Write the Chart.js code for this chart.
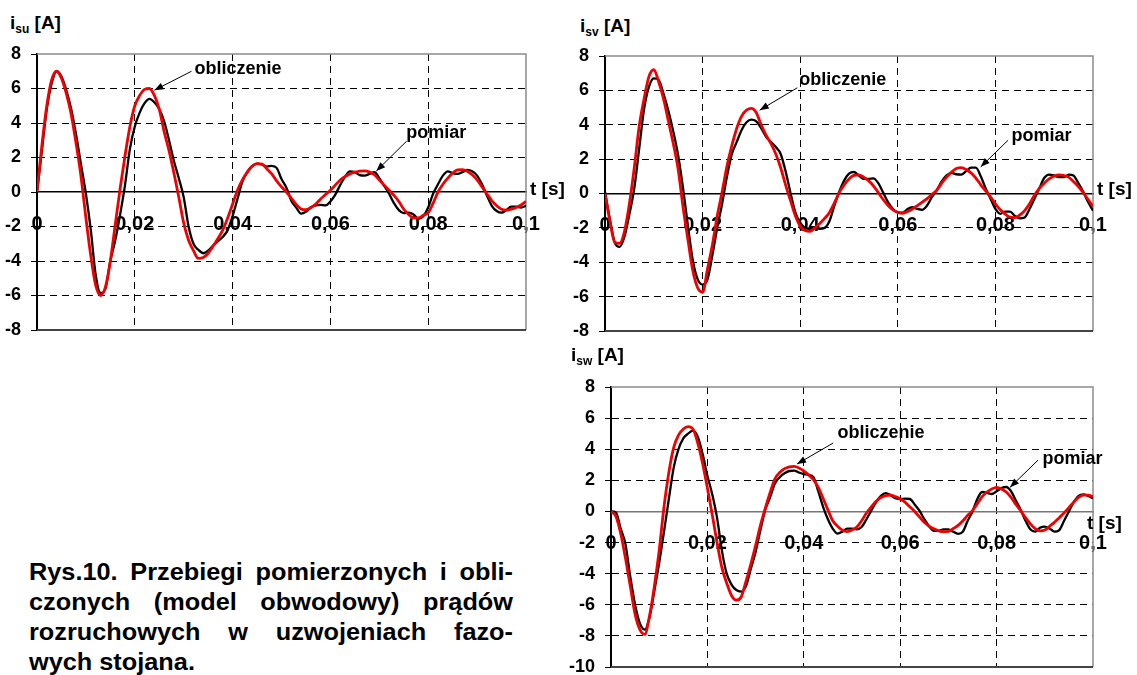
<!DOCTYPE html>
<html><head><meta charset="utf-8">
<script src="https://cdn.jsdelivr.net/npm/chart.js@4/dist/chart.umd.min.js"></script>
<style>
html,body{margin:0;padding:0;background:#fff;width:1137px;height:675px;overflow:hidden;}
body{position:relative;font-family:"Liberation Sans",Arial,sans-serif;font-weight:bold;color:#000;}
canvas{position:absolute;}
.ttl{position:absolute;font-size:19px;line-height:22px;white-space:nowrap;}
.ttl sub{font-size:12px;vertical-align:-4px;line-height:0;}
.tax{position:absolute;font-size:19px;line-height:22px;white-space:nowrap;}
#cap{position:absolute;left:29px;top:557px;width:440px;font-size:23px;line-height:30px;transform:scaleX(1.1);transform-origin:0 0;}
#cap div{text-align:justify;text-align-last:justify;}
#cap div.last{text-align:left;text-align-last:left;}
</style>
</head><body>
<canvas id="c1" width="570" height="310" style="left:0px;top:40px"></canvas>
<canvas id="c2" width="577" height="310" style="left:560px;top:40px"></canvas>
<canvas id="c3" width="577" height="305" style="left:560px;top:370px"></canvas>

<div class="ttl" style="left:10px;top:12px">i<sub>su</sub> [A]</div>
<div class="ttl" style="left:580px;top:15px">i<sub>sv</sub> [A]</div>
<div class="ttl" style="left:571px;top:344px">i<sub>sw</sub> [A]</div>
<div class="tax" style="left:530px;top:178px">t [s]</div>
<div class="tax" style="left:1097px;top:178px">t [s]</div>
<div class="tax" style="left:1087px;top:512px">t [s]</div>

<div id="cap">
<div>Rys.10. Przebiegi pomierzonych i obli-</div>
<div>czonych (model obwodowy) prądów</div>
<div>rozruchowych w uzwojeniach fazo-</div>
<div class="last">wych stojana.</div>
</div>

<script>
// time step between samples (s)
const T_STEP = 0.001;
const xTickValues = [0, 0.02, 0.04, 0.06, 0.08, 0.1];
const xTickLabels = ['0', '0,02', '0,04', '0,06', '0,08', '0,1'];

// phase U
const isuObliczenie = [0,2.7,5.0,6.5,7.0,6.6,5.7,4.5,2.8,0.9,-1.5,-3.7,-5.4,-6.0,-5.5,-4.0,-1.9,0.2,2.1,3.8,
 5.0,5.6,5.95,6.0,5.6,4.8,3.5,2.4,1.1,-0.3,-1.8,-2.8,-3.4,-3.85,-3.8,-3.55,-3.15,-2.7,-2.2,-1.5,
 -0.7,0.1,0.7,1.15,1.5,1.65,1.62,1.35,1.05,0.65,0.3,0.0,-0.35,-0.72,-0.98,-1.03,-0.9,-0.7,-0.4,-0.15,
 0.1,0.4,0.7,0.9,1.05,1.15,1.21,1.22,1.15,1.0,0.7,0.4,0.1,-0.2,-0.55,-1.0,-1.3,-1.5,-1.5,-1.35,
 -1.2,-0.65,0.0,0.45,0.8,1.1,1.28,1.3,1.2,1.0,0.7,0.3,-0.1,-0.5,-0.8,-1.0,-1.05,-1.0,-0.9,-0.75,-0.55];
const isuPomiar = [0,2.4,4.8,6.3,7.0,6.7,5.9,4.8,3.3,1.6,-0.1,-2.2,-4.8,-5.85,-5.6,-4.0,-2.8,-1.3,0.4,2.5,
 3.8,4.6,5.15,5.4,5.2,4.8,4.1,3.0,1.8,0.8,-0.3,-2.0,-3.0,-3.35,-3.55,-3.4,-3.1,-2.85,-2.6,-2.2,
 -1.4,-0.4,0.6,1.15,1.5,1.65,1.6,1.47,1.52,1.4,0.75,0.25,-0.5,-0.9,-1.25,-1.15,-0.9,-0.78,-0.75,-0.78,
 -0.55,-0.15,0.4,0.9,1.2,1.15,0.98,0.95,1.05,1.15,0.8,0.35,-0.1,-0.65,-1.05,-1.22,-1.2,-1.3,-1.55,-1.4,
 -0.9,-0.1,0.45,0.95,1.2,1.1,1.05,1.15,1.28,1.2,0.95,0.45,-0.2,-0.8,-1.1,-1.2,-1.05,-0.85,-0.85,-0.9,-0.8];

// phase V
const isvObliczenie = [0,-1.6,-2.85,-2.9,-2.2,-0.6,1.5,3.9,5.5,6.8,7.2,6.5,5.5,4.2,2.9,1.4,-0.8,-2.7,-4.5,-5.5,
 -5.75,-4.4,-3.0,-1.3,0.1,1.6,2.8,3.8,4.5,4.85,4.95,4.7,4.0,3.4,2.9,2.3,1.5,0.5,-0.4,-1.3,
 -1.9,-2.15,-2.2,-2.0,-1.75,-1.45,-1.1,-0.55,0.05,0.5,0.85,1.05,1.08,0.95,0.75,0.45,0.05,-0.35,-0.7,-0.95,
 -1.1,-1.15,-1.05,-0.9,-0.7,-0.5,-0.3,-0.05,0.2,0.6,0.95,1.25,1.45,1.5,1.4,1.2,0.9,0.5,0.15,-0.2,
 -0.6,-0.95,-1.2,-1.38,-1.4,-1.25,-1.0,-0.6,-0.1,0.3,0.6,0.85,1.0,1.08,1.05,0.95,0.7,0.4,0.05,-0.35,-0.75];
const isvPomiar = [0.1,-1.5,-2.85,-3.1,-2.5,-1.2,0.3,2.6,4.9,6.2,6.7,6.6,5.8,4.8,3.6,2.2,0.3,-1.9,-3.9,-5.0,
 -5.3,-5.0,-3.6,-2.0,-0.6,1.0,2.3,3.0,3.7,4.15,4.3,4.2,3.8,3.3,3.0,2.7,2.3,1.3,0.05,-1.1,
 -1.7,-2.0,-2.05,-2.0,-2.05,-2.0,-1.6,-0.7,0.1,0.75,1.15,1.25,1.05,0.85,0.85,0.88,0.6,0.05,-0.5,-0.9,
 -1.1,-1.12,-0.9,-0.8,-0.9,-0.95,-0.7,-0.2,0.2,0.7,1.05,1.2,1.12,1.1,1.3,1.5,1.5,1.0,0.3,-0.3,
 -0.9,-1.18,-1.05,-1.05,-1.3,-1.45,-1.4,-0.9,-0.3,0.3,0.9,1.1,1.05,0.95,0.95,1.1,1.05,0.6,0.1,-0.5,-1.0];

// phase W
const iswObliczenie = [0,-0.3,-1.4,-3.0,-4.8,-6.6,-7.6,-7.9,-6.7,-4.8,-2.5,0.3,2.5,4.1,4.9,5.3,5.45,5.3,4.4,3.1,
 1.5,-0.2,-2.0,-3.6,-4.6,-5.4,-5.7,-5.5,-4.5,-3.4,-2.2,-0.9,0.2,1.2,2.1,2.5,2.75,2.87,2.9,2.8,
 2.6,2.35,2.05,1.55,0.85,0.1,-0.6,-0.95,-1.2,-1.3,-1.2,-1.0,-0.6,-0.1,0.3,0.65,0.9,1.02,1.05,0.95,
 0.8,0.6,0.3,0.0,-0.35,-0.7,-0.95,-1.12,-1.25,-1.3,-1.28,-1.1,-0.9,-0.6,-0.25,0.05,0.5,0.95,1.25,1.45,
 1.55,1.45,1.25,0.9,0.45,0.05,-0.4,-0.8,-1.1,-1.25,-1.2,-0.95,-0.7,-0.4,-0.1,0.25,0.6,0.9,1.05,1.05,0.95];
const iswPomiar = [0,-0.05,-1.1,-2.1,-4.2,-6.0,-7.2,-7.6,-6.8,-5.1,-3.3,-1.3,0.8,2.8,4.0,4.7,5.0,5.2,4.8,3.7,
 2.3,1.1,-0.4,-2.5,-4.0,-4.7,-5.05,-5.15,-4.8,-3.7,-2.6,-1.2,0.1,0.9,1.8,2.2,2.45,2.6,2.62,2.5,
 2.4,2.35,2.2,1.3,0.3,-0.5,-1.1,-1.42,-1.3,-1.1,-1.1,-1.15,-1.0,-0.5,0.05,0.6,1.0,1.18,1.05,0.85,
 0.8,0.82,0.8,0.45,0.05,-0.5,-0.95,-1.25,-1.25,-1.15,-1.15,-1.3,-1.44,-1.3,-0.6,0.0,0.8,1.25,1.2,1.12,
 1.3,1.5,1.57,1.3,0.7,0.1,-0.6,-1.15,-1.3,-1.05,-0.97,-1.1,-1.3,-1.2,-0.6,0.0,0.6,1.0,1.1,1.0,0.85];

const FONT = '"Liberation Sans", Arial, Helvetica, sans-serif';
Chart.defaults.font.family = FONT;
Chart.defaults.font.weight = 'bold';
Chart.defaults.color = '#000';

function pts(arr) { return arr.map((v, i) => ({ x: +(i * T_STEP).toFixed(4), y: v })); }

const framePlugin = {
  id: 'frame',
  beforeDatasetsDraw(chart) {
    const { ctx, chartArea: a } = chart;
    ctx.save();
    ctx.lineWidth = 1.5;
    ctx.strokeStyle = '#8c8c8c';
    ctx.beginPath();
    ctx.moveTo(a.left, a.top); ctx.lineTo(a.right, a.top); ctx.lineTo(a.right, a.bottom);
    ctx.stroke();
    ctx.strokeStyle = '#444';
    ctx.lineWidth = 2;
    ctx.beginPath();
    ctx.moveTo(a.left, a.bottom); ctx.lineTo(a.right, a.bottom);
    ctx.stroke();
    ctx.restore();
  }
};

function makeNotes(items) {
  return {
    id: 'notes',
    afterDatasetsDraw(chart) {
      const xs = chart.scales.x, ys = chart.scales.y, ctx = chart.ctx;
      items.forEach(it => {
        const x1 = xs.getPixelForValue(it.tail[0]), y1 = ys.getPixelForValue(it.tail[1]);
        const x2 = xs.getPixelForValue(it.tip[0]), y2 = ys.getPixelForValue(it.tip[1]);
        ctx.save();
        ctx.strokeStyle = '#000'; ctx.fillStyle = '#000'; ctx.lineWidth = 1;
        ctx.beginPath(); ctx.moveTo(x1, y1); ctx.lineTo(x2, y2); ctx.stroke();
        const a = Math.atan2(y2 - y1, x2 - x1), L = 9, W = 3.5;
        ctx.beginPath();
        ctx.moveTo(x2, y2);
        ctx.lineTo(x2 - L * Math.cos(a) + W * Math.sin(a), y2 - L * Math.sin(a) - W * Math.cos(a));
        ctx.lineTo(x2 - L * Math.cos(a) - W * Math.sin(a), y2 - L * Math.sin(a) + W * Math.cos(a));
        ctx.closePath(); ctx.fill();
        ctx.font = 'bold 18px ' + FONT;
        ctx.textAlign = 'left'; ctx.textBaseline = 'middle';
        ctx.fillText(it.text, xs.getPixelForValue(it.at[0]), ys.getPixelForValue(it.at[1]));
        ctx.restore();
      });
    }
  };
}

function makeChart(id, obl, pom, yMin, yMax, yWidth, pad, zeroColor, notes) {
  return new Chart(document.getElementById(id), {
    type: 'line',
    data: {
      datasets: [
        { label: 'obliczenie', data: pts(obl), borderColor: '#f00000', borderWidth: 2.8, pointRadius: 0, cubicInterpolationMode: 'monotone', fill: false },
        { label: 'pomiar', data: pts(pom), borderColor: '#000000', borderWidth: 2.3, pointRadius: 0, cubicInterpolationMode: 'monotone', fill: false }
      ]
    },
    options: {
      responsive: false, animation: false, events: [],
      layout: { padding: pad },
      plugins: { legend: { display: false }, tooltip: { enabled: false } },
      scales: {
        x: {
          type: 'linear', min: 0, max: 0.1, position: { y: 0 },
          afterBuildTicks: s => { s.ticks = xTickValues.map(v => ({ value: v })); },
          ticks: { callback: (v, i) => xTickLabels[i], font: { size: 20, weight: 'bold' }, color: '#000', padding: 20, maxRotation: 0, autoSkip: false },
          grid: { drawTicks: false, lineWidth: 1, color: c => (c.index === 0 || c.index === xTickValues.length - 1) ? 'rgba(0,0,0,0)' : '#000' },
          border: { display: true, color: zeroColor, width: 1.4, dash: [7, 5] },
          afterFit: s => { s.height = 0; s.paddingLeft = 0; s.paddingRight = 0; s.paddingTop = 0; s.paddingBottom = 0; }
        },
        y: {
          min: yMin, max: yMax,
          ticks: { stepSize: 2, font: { size: 18, weight: 'bold' }, color: '#000', padding: 10 },
          grid: { tickLength: 6, tickWidth: 1, tickColor: '#000', lineWidth: 1,
                  color: c => (c.tick && (c.tick.value === 0 || c.tick.value === yMin || c.tick.value === yMax)) ? 'rgba(0,0,0,0)' : '#000' },
          border: { display: true, color: '#000', width: 2, dash: [7, 5] },
          afterFit: s => { s.width = yWidth; s.paddingTop = 0; s.paddingBottom = 0; }
        }
      }
    },
    plugins: [framePlugin, makeNotes(notes)]
  });
}

makeChart('c1', isuObliczenie, isuPomiar, -8, 8, 37, { top: 14, right: 44, bottom: 20, left: 0 }, '#000', [
  { text: 'obliczenie', at: [0.0322, 7.1], tail: [0.0316, 7.0], tip: [0.0240, 5.9] },
  { text: 'pomiar', at: [0.0755, 3.4], tail: [0.0756, 2.95], tip: [0.0694, 1.22] }
]);
makeChart('c2', isvObliczenie, isvPomiar, -8, 8, 45, { top: 16, right: 44, bottom: 19, left: 0 }, '#000', [
  { text: 'obliczenie', at: [0.0398, 6.6], tail: [0.0394, 6.15], tip: [0.0317, 4.85] },
  { text: 'pomiar', at: [0.0833, 3.37], tail: [0.0826, 3.1], tip: [0.0770, 1.55] }
]);
makeChart('c3', iswObliczenie, iswPomiar, -10, 8, 51, { top: 17, right: 44, bottom: 8, left: 0 }, '#777', [
  { text: 'obliczenie', at: [0.0470, 5.05], tail: [0.0461, 4.4], tip: [0.0386, 3.05] },
  { text: 'pomiar', at: [0.0895, 3.35], tail: [0.0886, 3.3], tip: [0.0828, 1.55] }
]);
</script>
</body></html>
